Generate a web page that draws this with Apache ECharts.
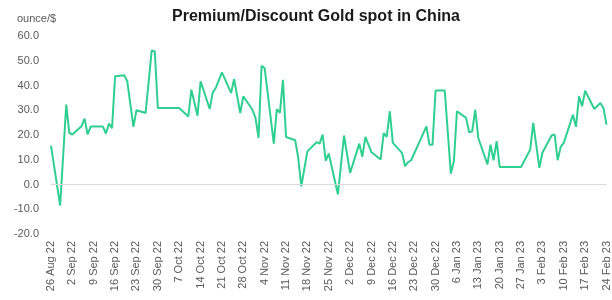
<!DOCTYPE html>
<html>
<head>
<meta charset="utf-8">
<script src="https://cdn.jsdelivr.net/npm/echarts@6/dist/echarts.min.js"></script>
<style>
  html, body { margin: 0; padding: 0; background: #fff; }
  #chart { width: 612px; height: 300px; }
</style>
</head>
<body>
<div id="chart"></div>
<script>
// values (ounce/$), only on days where the line turns
var dates = [
  '26 Aug 22', '29 Aug 22', '31 Aug 22', '1 Sep 22', '2 Sep 22', '5 Sep 22', '6 Sep 22', '7 Sep 22',
  '8 Sep 22', '9 Sep 22', '12 Sep 22', '13 Sep 22', '14 Sep 22', '15 Sep 22', '16 Sep 22', '19 Sep 22',
  '20 Sep 22', '22 Sep 22', '23 Sep 22', '26 Sep 22', '28 Sep 22', '29 Sep 22', '30 Sep 22', '7 Oct 22',
  '10 Oct 22', '11 Oct 22', '13 Oct 22', '14 Oct 22', '17 Oct 22', '18 Oct 22', '19 Oct 22', '21 Oct 22',
  '24 Oct 22', '25 Oct 22', '27 Oct 22', '28 Oct 22', '31 Oct 22', '1 Nov 22', '2 Nov 22', '3 Nov 22',
  '4 Nov 22', '7 Nov 22', '8 Nov 22', '9 Nov 22', '10 Nov 22', '11 Nov 22', '14 Nov 22', '15 Nov 22',
  '16 Nov 22', '18 Nov 22', '21 Nov 22', '22 Nov 22', '23 Nov 22', '24 Nov 22', '25 Nov 22', '28 Nov 22',
  '30 Nov 22', '2 Dec 22', '5 Dec 22', '6 Dec 22', '7 Dec 22', '9 Dec 22', '12 Dec 22', '13 Dec 22',
  '14 Dec 22', '15 Dec 22', '16 Dec 22', '19 Dec 22', '20 Dec 22', '21 Dec 22', '22 Dec 22', '27 Dec 22',
  '28 Dec 22', '29 Dec 22', '30 Dec 22', '2 Jan 23', '4 Jan 23', '5 Jan 23', '6 Jan 23', '9 Jan 23',
  '10 Jan 23', '11 Jan 23', '12 Jan 23', '13 Jan 23', '16 Jan 23', '17 Jan 23', '18 Jan 23', '19 Jan 23',
  '20 Jan 23', '27 Jan 23', '30 Jan 23', '31 Jan 23', '2 Feb 23', '3 Feb 23', '6 Feb 23', '7 Feb 23',
  '8 Feb 23', '9 Feb 23', '10 Feb 23', '13 Feb 23', '14 Feb 23', '15 Feb 23', '16 Feb 23', '17 Feb 23',
  '20 Feb 23', '22 Feb 23', '23 Feb 23', '24 Feb 23'
];
var premium = [
  15.7, -8.5, 32.3, 20.8, 20.2, 23.5, 26.6, 20.2,
  23.4, 23.4, 23.4, 20.6, 24.6, 22.8, 43.7, 44.1,
  41.7, 23.3, 30.0, 28.9, 54.2, 53.8, 30.9, 30.9,
  27.5, 38.3, 27.8, 41.7, 30.5, 37.2, 39.0, 45.3,
  37.0, 42.6, 28.9, 35.6, 30.2, 26.9, 18.8, 48.0,
  47.0, 16.5, 30.5, 28.9, 42.3, 19.2, 17.9, 10.8,
  -0.7, 13.4, 17.1, 16.5, 20.2, 9.6, 12.5, -4.0,
  19.8, 4.7, 16.5, 11.2, 19.2, 13.0, 10.1, 20.8,
  19.2, 29.6, 16.8, 12.8, 7.4, 9.0, 9.8, 23.5,
  16.1, 16.1, 38.0, 38.0, 4.4, 9.4, 29.6, 26.9,
  21.1, 21.5, 30.2, 18.8, 8.1, 16.1, 9.8, 17.5,
  7.1, 7.1, 14.1, 24.9, 6.7, 12.8, 19.8, 20.2,
  9.8, 15.2, 16.8, 28.2, 23.3, 35.6, 31.6, 37.9,
  30.5, 32.9, 30.9, 24.2
];
var yTicks = { min: -20, max: 60, step: 10 };

// calendar days on the axis, a label every 7th day
var months = ['Jan', 'Feb', 'Mar', 'Apr', 'May', 'Jun', 'Jul', 'Aug', 'Sep', 'Oct', 'Nov', 'Dec'];
var days = [];
for (var t = Date.UTC(2022, 7, 26); t <= Date.UTC(2023, 1, 24); t += 86400000) {
  var d = new Date(t);
  days.push(d.getUTCDate() + ' ' + months[d.getUTCMonth()] + ' ' + String(d.getUTCFullYear()).slice(2));
}
var lookup = {};
dates.forEach(function (k, i) { lookup[k] = premium[i]; });
var seriesData = days.map(function (k) { return k in lookup ? lookup[k] : null; });

var chart = echarts.init(document.getElementById('chart'));
var font = 'Liberation Sans, Arial, sans-serif';

chart.setOption({
  animation: false,
  textStyle: { fontFamily: font },
  title: [{
    text: 'Premium/Discount Gold spot in China',
    left: 311, top: 4, textAlign: 'center',
    textStyle: { fontSize: 16, fontWeight: 'bold', color: '#1a1a1a', fontFamily: font }
  }, {
    text: 'ounce/$',
    left: 12, top: 8,
    textStyle: { fontSize: 11, fontWeight: 'normal', color: '#595959', fontFamily: font }
  }],
  grid: { left: 51, right: 5, top: 36, bottom: 66 },
  xAxis: {
    type: 'category',
    data: days,
    boundaryGap: false,
    axisLine: { show: false },
    axisTick: { show: false },
    axisLabel: {
      interval: 6, rotate: 90, margin: 7,
      fontSize: 11, color: '#595959', fontFamily: font
    }
  },
  yAxis: {
    type: 'value',
    min: yTicks.min, max: yTicks.max, interval: yTicks.step,
    splitLine: { show: false },
    axisLine: { show: false },
    axisTick: { show: false },
    axisLabel: {
      margin: 12, fontSize: 11, color: '#595959', fontFamily: font,
      formatter: function (v) { return v.toFixed(1); }
    }
  },
  series: [{
    type: 'line',
    data: seriesData,
    connectNulls: true,
    showSymbol: false,
    lineStyle: { color: '#2fcf92', width: 2 },
    itemStyle: { color: '#2fcf92' },
    markLine: {
      silent: true, symbol: 'none', label: { show: false },
      lineStyle: { color: '#d9d9d9', width: 1, type: 'solid' },
      data: [{ yAxis: 0 }]
    },
    z: 3
  }]
});
</script>
</body>
</html>
